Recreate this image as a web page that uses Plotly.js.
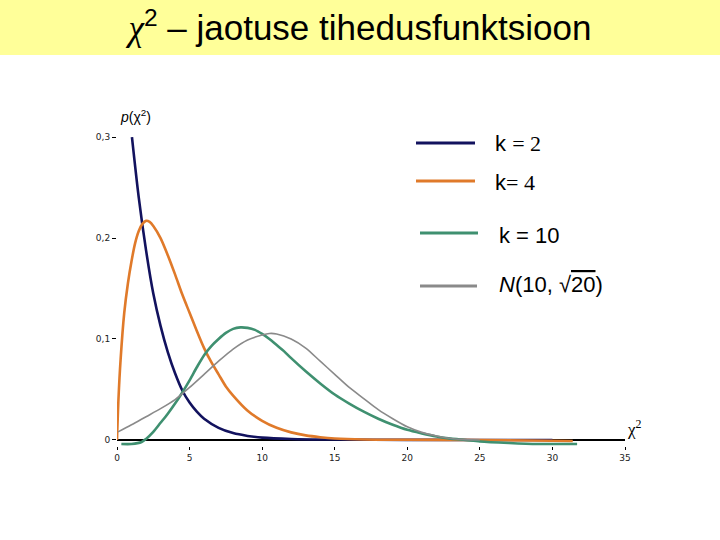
<!DOCTYPE html>
<html>
<head>
<meta charset="utf-8">
<script src="https://cdn.plot.ly/plotly-3.0.1.min.js"></script>
<style>html,body{margin:0;padding:0;background:#fff;}#chart{width:720px;height:540px;}</style>
</head>
<body>
<div id="chart"></div>
<script>
// ---- data ----
const k2X = [1.03, 1.5, 2, 2.5, 3, 3.5, 4, 4.5, 5, 5.5, 6, 7, 8, 9, 10, 12, 15, 20, 25, 30];
const k2Y = [0.300, 0.240, 0.188, 0.145, 0.113, 0.087, 0.066, 0.049, 0.037, 0.028, 0.021, 0.012, 0.0068, 0.004, 0.0023, 0.001, 0.0004, 0.0001, 0, 0];

const k4X = [0, 0.1, 0.25, 0.5, 0.75, 1, 1.25, 1.5, 1.75, 2, 2.25, 2.5, 3, 3.5, 4, 4.5, 5, 5.5, 6, 6.5, 7, 7.5, 8, 9, 10, 11, 12, 13, 14, 15, 17, 20, 25, 31.4];
const k4Y = [0, 0.04, 0.08, 0.126, 0.155, 0.177, 0.195, 0.207, 0.214, 0.217, 0.216, 0.212, 0.200, 0.183, 0.164, 0.144, 0.126, 0.108, 0.091, 0.077, 0.065, 0.053, 0.044, 0.029, 0.019, 0.012, 0.0075, 0.0045, 0.0027, 0.0015, 0.0005, 0.0002, 0, -0.001];

const k10X = [0.3, 1, 1.7, 2, 2.5, 3, 3.5, 4, 4.5, 5, 5.5, 6, 6.5, 7, 7.5, 8, 8.5, 9, 9.5, 10, 10.5, 11, 11.5, 12, 13, 14, 15, 16, 17, 18, 19, 20, 21, 22, 23, 24, 25, 27, 29, 31.7];
const k10Y = [-0.004, -0.004, -0.002, 0.001, 0.008, 0.017, 0.026, 0.036, 0.047, 0.059, 0.072, 0.084, 0.093, 0.100, 0.106, 0.110, 0.1115, 0.111, 0.109, 0.105, 0.100, 0.094, 0.088, 0.081, 0.068, 0.056, 0.045, 0.036, 0.028, 0.021, 0.015, 0.010, 0.0065, 0.0035, 0.0013, 0, -0.0015, -0.003, -0.004, -0.004];

const normX = [0.07, 1, 2, 3, 4, 5, 6, 7, 8, 9, 10, 10.5, 11, 12, 13, 14, 15, 16, 17, 18, 19, 20, 21, 22, 23, 24, 25];
const normY = [0.008, 0.015, 0.023, 0.031, 0.040, 0.052, 0.065, 0.078, 0.090, 0.099, 0.104, 0.1055, 0.105, 0.100, 0.091, 0.078, 0.065, 0.052, 0.041, 0.030, 0.021, 0.013, 0.0075, 0.004, 0.0015, 0.0003, 0];

const xTickVals = [0, 5, 10, 15, 20, 25, 30, 35];
const xTickText = ['0', '5', '10', '15', '20', '25', '30', '35'];
const yTickVals = [0, 0.1, 0.2, 0.3];
const yTickText = ['0', '0,1', '0,2', '0,3'];

const seriesNames = ['k = 2', 'k= 4', 'k = 10', 'N(10, √20)'];
const colors = ['#12125e', '#e07a2a', '#3f9070', '#8a8a8a'];

// ---- layout helpers (pixel -> paper) ----
const L = 117, R = 625, T = 127, B = 446;
const px = x => (x - L) / (R - L);
const py = y => (B - y) / (B - T);

const traces = [
  {x: k2X, y: k2Y, name: seriesNames[0], line: {color: colors[0], width: 2.6, shape: 'spline', smoothing: 0.8}},
  {x: k4X, y: k4Y, name: seriesNames[1], line: {color: colors[1], width: 2.6, shape: 'spline', smoothing: 0.8}},
  {x: k10X, y: k10Y, name: seriesNames[2], line: {color: colors[2], width: 2.6, shape: 'spline', smoothing: 0.8}},
  {x: normX, y: normY, name: seriesNames[3], line: {color: colors[3], width: 1.6, shape: 'spline', smoothing: 0.8}}
].map(t => Object.assign({type: 'scatter', mode: 'lines', hoverinfo: 'skip'}, t));

const legendRows = [
  {x0: 416, x1: 475, y: 143, tx: 493, ty: 143, text: 'k <span style="font-family:Liberation Serif">= 2</span>'},
  {x0: 416, x1: 475, y: 181, tx: 493, ty: 182, text: 'k<span style="font-family:Liberation Serif">= 4</span>'},
  {x0: 420, x1: 478, y: 233, tx: 497, ty: 235, text: 'k = 10'},
  {x0: 420, x1: 477, y: 286, tx: 497, ty: 284, text: '<i>N</i>(10, √<span style="text-decoration:overline">20</span>)'}
];

const shapes = [
  {type: 'rect', xref: 'paper', yref: 'paper', x0: px(0), x1: px(720), y0: py(55), y1: py(0),
   fillcolor: '#ffff99', line: {width: 0}, layer: 'below'}
];
const annotations = [];
legendRows.forEach((r, i) => {
  shapes.push({type: 'line', xref: 'paper', yref: 'paper', x0: px(r.x0), x1: px(r.x1), y0: py(r.y), y1: py(r.y),
               line: {color: colors[i], width: 3}});
  annotations.push({xref: 'paper', yref: 'paper', x: px(r.tx), y: py(r.ty), xanchor: 'left', yanchor: 'middle',
                    showarrow: false, text: r.text, font: {family: 'Liberation Sans, Arial', size: 22, color: '#000'}});
});
annotations.push({xref: 'paper', yref: 'paper', x: px(135), y: py(116), xanchor: 'center', yanchor: 'middle', showarrow: false,
  text: '<i>p</i>(χ<sup>2</sup>)', font: {family: 'Liberation Sans, Arial', size: 14, color: '#000'}});
annotations.push({xref: 'paper', yref: 'paper', x: px(634), y: py(428), xanchor: 'center', yanchor: 'middle', showarrow: false,
  text: 'χ<sup>2</sup>', font: {family: 'Liberation Serif, Times New Roman', size: 17, color: '#000'}});

const layout = {
  width: 720, height: 540,
  margin: {l: L, r: 720 - R, t: T, b: 540 - B, pad: 0},
  paper_bgcolor: '#ffffff', plot_bgcolor: '#ffffff',
  showlegend: false,
  title: {
    text: '<span style="font-family:Liberation Serif"><i>χ</i></span><sup>2</sup> – jaotuse tihedusfunktsioon',
    xref: 'container', yref: 'container', x: 0.5, y: 1 - 28 / 540, xanchor: 'center', yanchor: 'middle',
    font: {family: 'Liberation Sans, Arial', size: 35, color: '#000'}
  },
  xaxis: {
    range: [0, 35], showgrid: false, zeroline: false, showline: false,
    tickmode: 'array', tickvals: xTickVals, ticktext: xTickText,
    ticks: 'outside', ticklen: 3, tickcolor: '#000', tickwidth: 1,
    tickfont: {family: 'DejaVu Sans, Verdana', size: 9, color: '#222'}
  },
  yaxis: {
    range: [-0.006, 0.31], showgrid: false, zeroline: true, zerolinecolor: '#000', zerolinewidth: 1.5,
    showline: false,
    tickmode: 'array', tickvals: yTickVals, ticktext: yTickText,
    ticks: 'outside', ticklen: 4, tickcolor: '#000', tickwidth: 1,
    tickfont: {family: 'DejaVu Sans, Verdana', size: 9, color: '#222'}
  },
  shapes: shapes,
  annotations: annotations
};

Plotly.newPlot('chart', traces, layout, {displayModeBar: false, staticPlot: true});
</script>
</body>
</html>
